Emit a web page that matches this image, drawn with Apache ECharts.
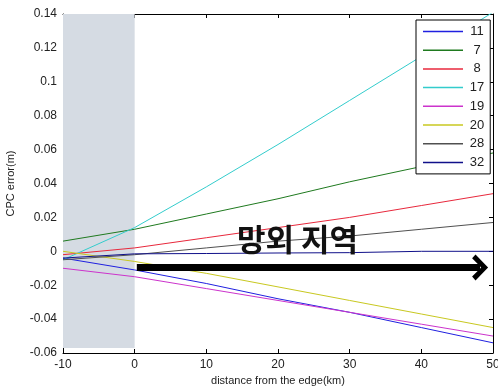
<!DOCTYPE html>
<html>
<head>
<meta charset="utf-8">
<script src="https://cdn.jsdelivr.net/npm/echarts@6/dist/echarts.min.js"></script>
<style>html,body{margin:0;padding:0;background:#fff;}#c{width:498px;height:391px;}</style>
</head>
<body>
<div id="c"></div>
<script>
// ---- data ----
var xs = [-10, 0, 10, 20, 30, 40, 50];
var names = ['11', '7', '8', '17', '19', '20', '28', '32'];
var s11 = [-0.004, -0.011, -0.019, -0.028, -0.036, -0.045, -0.054];
var s7  = [0.006, 0.013, 0.022, 0.031, 0.041, 0.050, 0.058];
var s8  = [-0.002, 0.002, 0.008, 0.014, 0.020, 0.027, 0.034];
var s17 = [-0.005, 0.014, 0.038, 0.063, 0.089, 0.115, 0.141];
var s19 = [-0.010, -0.015, -0.022, -0.029, -0.036, -0.043, -0.050];
var s20 = [0.000, -0.006, -0.013, -0.021, -0.029, -0.037, -0.045];
var s28 = [-0.005, -0.002, 0.002, 0.006, 0.009, 0.013, 0.017];
var s32 = [-0.004, -0.0015, -0.0013, -0.001, -0.0008, 0.000, 0.000];
var values = [s11, s7, s8, s17, s19, s20, s28, s32];
var colors = ['#2020e0', '#1f7a1f', '#e8283c', '#33cccc', '#cc33cc', '#c8c820', '#505050', '#10108a'];
var shadeX = [-10, 0];
var shadeY = [-0.057, 0.14];
var arrowFrom = [0.3, -0.0095];
var arrowTo = [48.2, -0.0095];
var annotation = '망외 지역';

function pairs(v) { return xs.map(function (x, i) { return [x, v[i]]; }); }

var font = 'Liberation Sans, Arial, sans-serif';
var series = names.map(function (n, i) {
  return {
    name: n, type: 'line', data: pairs(values[i]), symbol: 'none', smooth: false,
    lineStyle: { width: 1, color: colors[i] }, itemStyle: { color: colors[i] },
    z: 3, silent: true
  };
});
series.unshift({
  name: '__shade', type: 'line', data: [], silent: true,
  markArea: {
    silent: true,
    itemStyle: { color: '#d5dbe3' },
    data: [[{ coord: [shadeX[0], shadeY[0]] }, { coord: [shadeX[1], shadeY[1]] }]]
  }
});
series.push({
  name: '__arrow', type: 'line', data: [], silent: true, z: 5,
  markLine: {
    silent: true, animation: false,
    symbol: ['none', 'path://M0,11 L10,0 L20,11 L17,14 L10,6 L3,14 Z'],
    symbolSize: [26, 16],
    label: { show: false },
    lineStyle: { color: '#000', width: 7, type: 'solid' },
    data: [[{ coord: arrowFrom }, { coord: arrowTo }]]
  }
});

var axisLineStyle = { show: true, onZero: false, lineStyle: { color: '#000', width: 1 } };
var tickStyle = { show: true, inside: true, length: 4, lineStyle: { color: '#000' } };

var chart = echarts.init(document.getElementById('c'), null, { renderer: 'canvas' });
chart.setOption({
  animation: false,
  backgroundColor: '#fff',
  grid: { left: 63, right: 5, top: 14, bottom: 38, containLabel: false, outerBoundsMode: 'none' },
  legend: {
    data: names,
    orient: 'vertical',
    left: 416, top: 20,
    backgroundColor: '#fff',
    borderColor: '#000', borderWidth: 1,
    padding: [5, 6, 5, 7],
    icon: 'rect',
    itemWidth: 40, itemHeight: 1.5, itemGap: 5.7,
    textStyle: { fontFamily: font, fontSize: 13, color: '#222',
      rich: { a: { width: 18, height: 15, align: 'center', fontFamily: font, fontSize: 13, color: '#222' } } },
    formatter: function (n) { return '{a|' + n + '}'; },
    selectedMode: false
  },
  xAxis: [{
    type: 'value', min: -10, max: 50, interval: 10,
    name: 'distance from the edge(km)', nameLocation: 'middle', nameGap: 22,
    nameTextStyle: { fontFamily: font, fontSize: 11, color: '#222' },
    axisLine: axisLineStyle, axisTick: tickStyle,
    axisLabel: { fontFamily: font, fontSize: 12, color: '#222', margin: 6 },
    splitLine: { show: false }
  }, {
    type: 'value', position: 'top', min: -10, max: 50, interval: 10,
    axisLine: axisLineStyle, axisTick: tickStyle,
    axisLabel: { show: false }, splitLine: { show: false }
  }],
  yAxis: [{
    type: 'value', min: -0.06, max: 0.14, interval: 0.02,
    name: 'CPC error(m)', nameLocation: 'middle', nameGap: 47, nameRotate: 90,
    nameTextStyle: { fontFamily: font, fontSize: 11, color: '#222' },
    axisLine: axisLineStyle, axisTick: tickStyle,
    axisLabel: { fontFamily: font, fontSize: 12, color: '#222', margin: 6,
      formatter: function (v) { return String(Math.round(v * 100) / 100); } },
    splitLine: { show: false }
  }, {
    type: 'value', position: 'right', min: -0.06, max: 0.14, interval: 0.02,
    axisLine: axisLineStyle, axisTick: tickStyle,
    axisLabel: { show: false }, splitLine: { show: false }
  }],
  graphic: [{
    type: 'text', left: 237, top: 224, z: 10,
    style: { text: annotation, fontFamily: 'Noto Sans CJK KR', fontWeight: 'bold', fontSize: 31, fill: '#111' }
  }],
  series: series
});
</script>
</body>
</html>
